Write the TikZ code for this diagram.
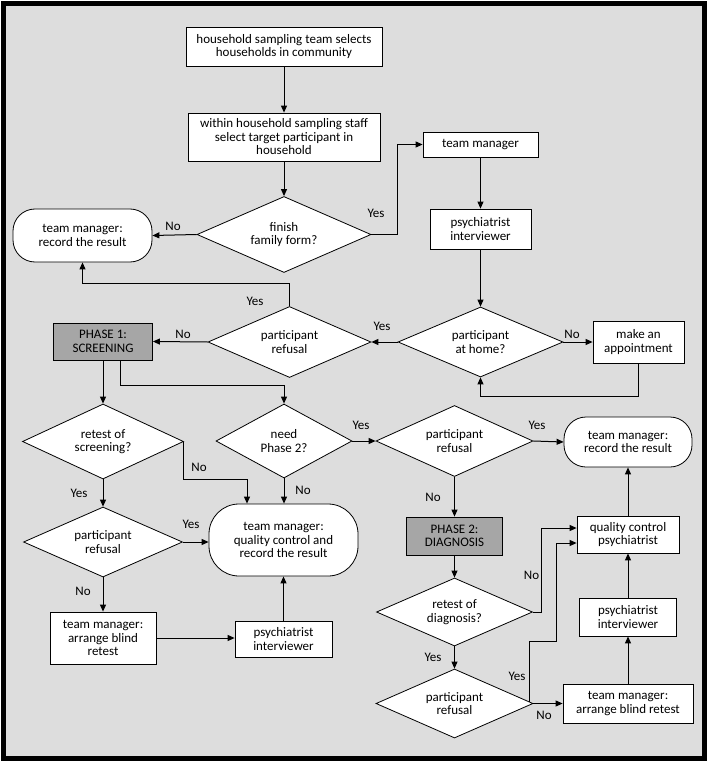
\documentclass[tikz,border=0pt]{standalone}
\usepackage{fontspec}
\setmainfont{Carlito}
\usetikzlibrary{shapes, arrows.meta, calc}
\definecolor{panelgray}{RGB}{221, 221, 221}
\definecolor{phasegray}{RGB}{166, 166, 166}

\begin{document}
\begin{tikzpicture}[
      x=1pt, y=-1pt,
      font=\fontsize{13}{13.5}\selectfont,
      block/.style={rectangle, draw=black, line width=0.8pt, fill=white, align=center, inner sep=0pt},
      phase/.style={block, fill=phasegray},
      terminal/.style={block, rounded corners=22pt},
      decision/.style={diamond, draw=black, line width=0.8pt, fill=white, align=center, inner sep=0pt, aspect=2.2},
      arrow/.style={-{Triangle[length=7pt, width=6pt]}, line width=1pt},
      lbl/.style={inner sep=0pt}
  ]

  \useasboundingbox (0,0) rectangle (709,762);
  \draw[line width=5pt, fill=panelgray] (3.5,3.5) rectangle (704.5,758.5);

  % Nodes
  \node[block, minimum width=196pt, minimum height=39pt] (select) at (284,46.5) {household sampling team selects\\households in community};
  \node[block, minimum width=192pt, minimum height=48pt] (target) at (284,137) {within household sampling staff\\select target participant in\\household};
  \node[decision, minimum width=174pt, minimum height=76pt] (finish) at (284,234.5) {finish\\family form?};
  \node[terminal, minimum width=139pt, minimum height=53pt] (record1) at (82.5,235.5) {team manager:\\record the result};
  \node[block, minimum width=115pt, minimum height=25pt] (manager) at (480.5,144.5) {team manager};
  \node[block, minimum width=101pt, minimum height=40pt] (psych1) at (480.5,229) {psychiatrist\\interviewer};
  \node[decision, minimum width=165pt, minimum height=70pt] (home) at (480.5,342) {participant\\at home?};
  \node[block, minimum width=91pt, minimum height=42pt] (appoint) at (638.5,342) {make an\\appointment};
  \node[decision, minimum width=163pt, minimum height=71pt] (refuse1) at (289.5,342) {participant\\refusal};
  \node[phase, minimum width=99pt, minimum height=37pt] (phase1) at (103,341.5) {PHASE 1:\\SCREENING};
  \node[decision, minimum width=161pt, minimum height=75pt] (retest1) at (103,441.5) {retest of\\screening?};
  \node[decision, minimum width=136pt, minimum height=74pt] (need) at (284,441) {need\\Phase 2?};
  \node[decision, minimum width=159pt, minimum height=70pt] (refuse2) at (103,542) {participant\\refusal};
  \node[terminal, rounded corners=30pt, minimum width=149pt, minimum height=72pt] (quality) at (283.5,540) {team manager:\\quality control and\\record the result};
  \node[block, minimum width=106pt, minimum height=52pt] (blind1) at (103,638) {team manager:\\arrange blind\\retest};
  \node[block, minimum width=97pt, minimum height=36pt] (psych2) at (283.5,639) {psychiatrist\\interviewer};
  \node[decision, minimum width=157pt, minimum height=71pt] (refuse3) at (454.5,441) {participant\\refusal};
  \node[terminal, minimum width=128pt, minimum height=50pt] (record2) at (628,442) {team manager:\\record the result};
  \node[phase, minimum width=96pt, minimum height=38pt] (phase2) at (454.5,536) {PHASE 2:\\DIAGNOSIS};
  \node[block, minimum width=102pt, minimum height=37pt] (qcpsych) at (628,534.5) {quality control\\psychiatrist};
  \node[decision, minimum width=156pt, minimum height=68pt] (retest2) at (454.5,612) {retest of\\diagnosis?};
  \node[decision, minimum width=157pt, minimum height=69pt] (refuse4) at (454.5,703.5) {participant\\refusal};
  \node[block, minimum width=130pt, minimum height=39pt] (blind2) at (628,703.5) {team manager:\\arrange blind retest};
  \node[block, minimum width=97pt, minimum height=38pt] (psych3) at (628,617) {psychiatrist\\interviewer};

  % Arrows
  \draw[arrow] (select) -- (target);
  \draw[arrow] (target) -- (finish);
  \draw[arrow] (finish.west) -- (record1.east);
  \draw[arrow] (finish.east) -- ++(26,0) |- (manager.west);
  \draw[arrow] (manager) -- (psych1);
  \draw[arrow] (psych1) -- (home);
  \draw[arrow] (home.west) -- (refuse1.east);
  \draw[arrow] (home.east) -- (appoint.west);
  \draw[arrow] (appoint.south) -- ++(0,33) -| (home.south);
  \draw[arrow] (refuse1.north) -- ++(0,-23) -| (record1.south);
  \draw[arrow] (refuse1.west) -- (phase1.east);
  \draw[arrow] (phase1.south) -- (retest1.north);
  \draw[arrow] ([xshift=17pt]phase1.south) -- ++(0,25) -| (need.north);
  \draw[arrow] (retest1.east) -- ++(0,37.5) -| ([xshift=-36.5pt]quality.north);
  \draw[arrow] (need.south) -- (quality.north -| need.south);
  \draw[arrow] (need.east) -- (refuse3.west);
  \draw[arrow] (retest1.south) -- (refuse2.north);
  \draw[arrow] (refuse2.east) -- (quality.west |- refuse2.east);
  \draw[arrow] (refuse2.south) -- (blind1.north);
  \draw[arrow] (blind1.east) -- (psych2.west |- blind1.east);
  \draw[arrow] (psych2.north) -- (quality.south -| psych2.north);
  \draw[arrow] (refuse3.east) -- (record2.west);
  \draw[arrow] (refuse3.south) -- (phase2.north);
  \draw[arrow] (phase2.south) -- (retest2.north);
  \draw[arrow] (retest2.east) -- ++(9,0) |- ([yshift=6.5pt]qcpsych.west);
  \draw[arrow] (retest2.south) -- (refuse4.north);
  \draw[arrow] ([xshift=-4pt, yshift=1.8pt]refuse4.east) -- ++(0,-60) -- ++(27,0) |- ([yshift=-8.5pt]qcpsych.west);
  \draw[arrow] (refuse4.east) -- (blind2.west);
  \draw[arrow] (blind2) -- (psych3);
  \draw[arrow] (psych3) -- (qcpsych);
  \draw[arrow] (qcpsych) -- (record2);

  % Annotations
  \node[lbl] (l1) at (173,226) {No};
  \node[lbl] (l2) at (376,213) {Yes};
  \node[lbl] (l3) at (255,301) {Yes};
  \node[lbl] (l4) at (183,334) {No};
  \node[lbl] (l5) at (382,326) {Yes};
  \node[lbl] (l6) at (572,334) {No};
  \node[lbl] (l7) at (199,467) {No};
  \node[lbl] (l8) at (303,490) {No};
  \node[lbl] (l9) at (79,493) {Yes};
  \node[lbl] (l10) at (191,524) {Yes};
  \node[lbl] (l11) at (83,591) {No};
  \node[lbl] (l12) at (361,425) {Yes};
  \node[lbl] (l13) at (537,425) {Yes};
  \node[lbl] (l14) at (433,497) {No};
  \node[lbl] (l15) at (531.5,575) {No};
  \node[lbl] (l16) at (433,657) {Yes};
  \node[lbl] (l17) at (517,676) {Yes};
  \node[lbl] (l18) at (544,715) {No};

  \end{tikzpicture}
\end{document}
